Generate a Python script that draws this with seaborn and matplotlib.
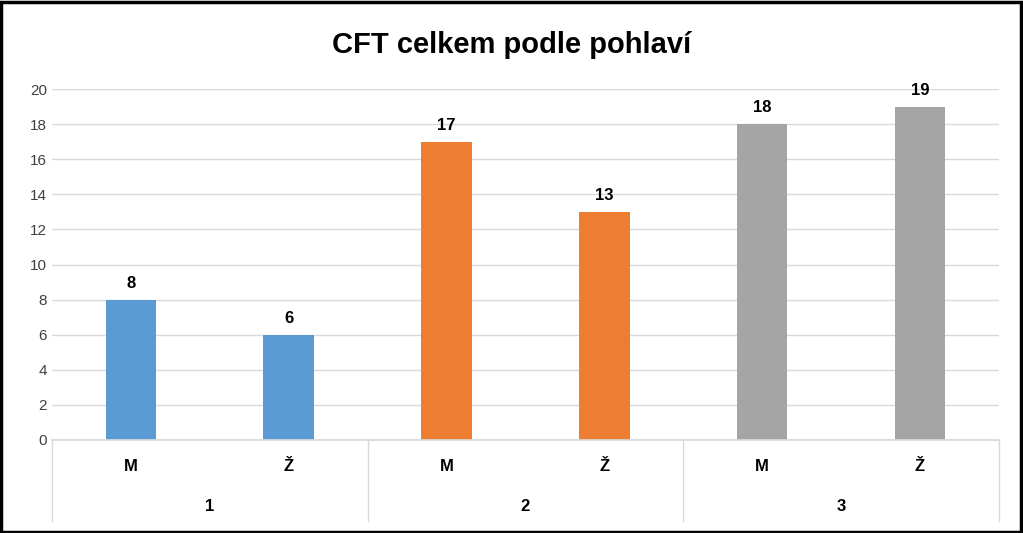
import matplotlib
matplotlib.use("Agg")
import matplotlib.pyplot as plt
import seaborn as sns
import pandas as pd
from matplotlib.patches import Rectangle
from matplotlib.lines import Line2D

groups = ["1", "1", "2", "2", "3", "3"]
genders = ["M", "Ž", "M", "Ž", "M", "Ž"]
values = [8, 6, 17, 13, 18, 19]
colors = {"1": "#5B9BD5", "2": "#ED7D31", "3": "#A5A5A5"}
title = "CFT celkem podle pohlaví"

sns.set_theme(style="white")
plt.rcParams['font.family'] = ['Liberation Sans', 'DejaVu Sans']

df = pd.DataFrame({"pos": list(range(6)), "group": groups, "val": values})
fig = plt.figure(figsize=(10.23, 5.33), dpi=100)
ax = fig.add_axes([0.0508, 0.1745, 0.9257, 0.6585])
sns.barplot(data=df, x="pos", y="val", hue="group", palette=colors, dodge=False,
            width=0.32, legend=False, ax=ax, native_scale=True, saturation=1,
            linewidth=0)
ax.set_xlim(-0.5, 5.5)
ax.set_ylim(0, 20)
ax.set_yticks(range(0, 21, 2))
ax.yaxis.grid(True, color="#D9D9D9", lw=1)
ax.set_axisbelow(True)
for s in ["top", "right", "left"]:
    ax.spines[s].set_visible(False)
ax.spines["bottom"].set_color("#D9D9D9")
ax.tick_params(axis="y", length=0, labelsize=11, colors="#404040")
ax.set_xticks([])
ax.set_xlabel(""); ax.set_ylabel("")
for i, v in enumerate(values):
    ax.text(i, v + 0.5, str(v), ha="center", va="bottom", fontsize=12, fontweight="bold", color="black")
trans = ax.get_xaxis_transform()
for i, g in enumerate(genders):
    ax.text(i, -0.075, g, transform=trans, ha="center", va="center", fontsize=12, fontweight="bold", color="black")
for k, g in enumerate(["1", "2", "3"]):
    ax.text(2 * k + 0.5, -0.19, g, transform=trans, ha="center", va="center", fontsize=12, fontweight="bold", color="black")
for xb in [-0.5, 1.5, 3.5, 5.5]:
    ax.add_line(Line2D([xb, xb], [0, -0.23], transform=trans, color="#D9D9D9", lw=1, clip_on=False))
fig.text(0.5, 0.915, title, ha="center", va="center", fontsize=21, fontweight="bold", color="black")
fig.add_artist(Rectangle((0.001, 0.002), 0.997, 0.995, transform=fig.transFigure,
                         fill=False, ec="black", lw=2.5))
fig.savefig("out.png", dpi=100)
